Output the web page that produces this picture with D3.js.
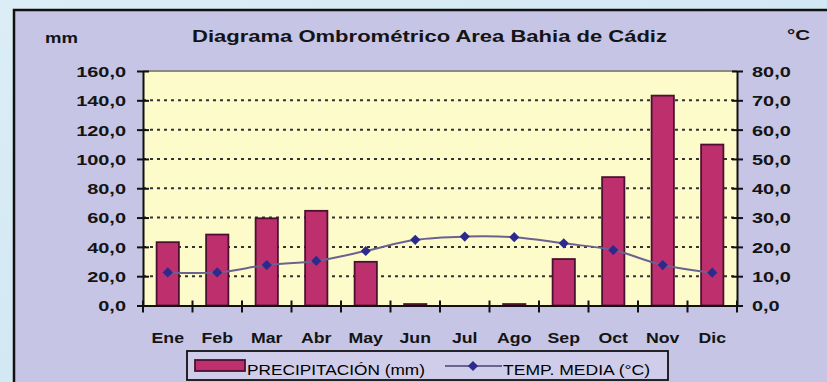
<!DOCTYPE html>
<html>
<head>
<meta charset="utf-8">
<script src="https://cdn.jsdelivr.net/npm/d3@7/dist/d3.min.js"></script>
<style>
  html, body { margin: 0; padding: 0; background: #d3e9f4; }
  svg { display: block; }
  text { font-family: "Liberation Sans", Arial, sans-serif; fill: #141414; }
</style>
</head>
<body>
<svg id="chart" width="827" height="382"></svg>
<script>
// Monthly climate data, Bahía de Cádiz
const months = ["Ene", "Feb", "Mar", "Abr", "May", "Jun", "Jul", "Ago", "Sep", "Oct", "Nov", "Dic"];
const precipitation = [43.2, 48.4, 59.5, 64.6, 29.8, 1.0, 0.0, 1.0, 31.7, 87.6, 143.2, 109.8]; // mm
const temperature = [11.3, 11.3, 13.8, 15.2, 18.6, 22.4, 23.5, 23.3, 21.2, 18.9, 13.8, 11.2];   // °C
const precipTicks = [0, 20, 40, 60, 80, 100, 120, 140, 160];
const tempTicks = [0, 10, 20, 30, 40, 50, 60, 70, 80];
const gridValues = [20, 40, 60, 80, 100, 120, 140];

const title = "Diagrama Ombrométrico Area Bahia de Cádiz";
const leftUnit = "mm";
const rightUnit = "°C";
const legendBar = "PRECIPITACIÓN (mm)";
const legendLine = "TEMP. MEDIA (°C)";

const fmt = v => d3.format(".1f")(v).replace(".", ",");

const svg = d3.select("#chart");

// page backdrop
const defs = svg.append("defs");
const bg = defs.append("linearGradient").attr("id", "bgGrad")
  .attr("x1", 0).attr("y1", 0).attr("x2", 1).attr("y2", 1);
bg.append("stop").attr("offset", "0%").attr("stop-color", "#dcedf6");
bg.append("stop").attr("offset", "100%").attr("stop-color", "#c9e3f1");
svg.append("rect").attr("width", 827).attr("height", 382).attr("fill", "url(#bgGrad)");

// chart panel
svg.append("rect")
  .attr("x", 14).attr("y", 10).attr("width", 900).attr("height", 500)
  .attr("fill", "#c6c5e5").attr("stroke", "#111").attr("stroke-width", 2.5);

const plot = { left: 143, right: 737, top: 71, bottom: 305.5 };

const x = d3.scaleBand().domain(months).range([plot.left, plot.right]).paddingInner(0).paddingOuter(0);
const yP = d3.scaleLinear().domain([0, 160]).range([plot.bottom, plot.top]);
const yT = d3.scaleLinear().domain([0, 80]).range([plot.bottom, plot.top]);

// plot background
svg.append("rect")
  .attr("x", plot.left).attr("y", plot.top)
  .attr("width", plot.right - plot.left).attr("height", plot.bottom - plot.top)
  .attr("fill", "#fdfbc9");
svg.append("line")
  .attr("x1", plot.left).attr("x2", plot.right)
  .attr("y1", plot.top).attr("y2", plot.top)
  .attr("stroke", "#8a8a8a").attr("stroke-width", 2);

// dotted gridlines
svg.append("g").selectAll("line").data(gridValues).join("line")
  .attr("x1", plot.left).attr("x2", plot.right)
  .attr("y1", d => yP(d)).attr("y2", d => yP(d))
  .attr("stroke", "#333").attr("stroke-width", 2)
  .attr("stroke-dasharray", "3,4");

// precipitation bars
const barW = x.bandwidth() * 0.45;
svg.append("g").selectAll("rect").data(precipitation).join("rect")
  .attr("x", (d, i) => x(months[i]) + (x.bandwidth() - barW) / 2)
  .attr("y", d => yP(d))
  .attr("width", barW)
  .attr("height", d => yP(0) - yP(d))
  .attr("fill", "#be2f6e")
  .attr("stroke", "#4a1230").attr("stroke-width", d => d > 0 ? 1.8 : 0);

// temperature line
const line = d3.line()
  .x((d, i) => x(months[i]) + x.bandwidth() / 2)
  .y(d => yT(d))
  .curve(d3.curveCatmullRom.alpha(0.5));
svg.append("path").datum(temperature)
  .attr("d", line).attr("fill", "none")
  .attr("stroke", "#6c6290").attr("stroke-width", 2);

const diamond = d3.symbol().type(d3.symbolDiamond2).size(66);
svg.append("g").selectAll("path").data(temperature).join("path")
  .attr("d", diamond)
  .attr("transform", (d, i) => `translate(${x(months[i]) + x.bandwidth() / 2},${yT(d)})`)
  .attr("fill", "#2c2a8c");

// left axis
const gL = svg.append("g").attr("transform", `translate(${plot.left},0)`)
  .call(d3.axisLeft(yP).tickValues(precipTicks).tickFormat(fmt).tickSizeInner(6).tickSizeOuter(0));
gL.select(".domain").attr("stroke", "#111").attr("stroke-width", 2);
gL.selectAll(".tick line").attr("x1", 6).attr("stroke", "#111").attr("stroke-width", 2);
gL.selectAll(".tick text")
  .attr("x", null).attr("dy", "0.36em")
  .attr("transform", "translate(-17,0) scale(1.33,1)")
  .attr("text-anchor", "end")
  .style("font-size", "15px").style("font-weight", "bold");

// right axis
const gR = svg.append("g").attr("transform", `translate(${plot.right},0)`)
  .call(d3.axisRight(yT).tickValues(tempTicks).tickFormat(fmt).tickSizeInner(6).tickSizeOuter(0));
gR.select(".domain").attr("stroke", "#111").attr("stroke-width", 2);
gR.selectAll(".tick line").attr("x1", -5).attr("stroke", "#111").attr("stroke-width", 2);
gR.selectAll(".tick text")
  .attr("x", null).attr("dy", "0.36em")
  .attr("transform", "translate(15,0) scale(1.33,1)")
  .attr("text-anchor", "start")
  .style("font-size", "15px").style("font-weight", "bold");

// bottom axis with ticks on category boundaries
const gB = svg.append("g").attr("transform", `translate(0,${plot.bottom})`)
  .call(d3.axisBottom(x).tickSize(0).tickPadding(0));
gB.select(".domain").attr("stroke", "#111").attr("stroke-width", 2);
gB.selectAll(".tick text")
  .attr("y", null).attr("dy", null)
  .attr("transform", "translate(0,37.5) scale(1.18,1)")
  .style("font-size", "15px").style("font-weight", "bold");
const bounds = months.map(m => x(m)).concat([plot.right]);
gB.append("g").selectAll("line").data(bounds).join("line")
  .attr("x1", d => d).attr("x2", d => d)
  .attr("y1", -5).attr("y2", 7)
  .attr("stroke", "#111").attr("stroke-width", 2);

// titles
svg.append("text").attr("x", 192).attr("y", 42)
  .attr("textLength", 475).attr("lengthAdjust", "spacingAndGlyphs")
  .style("font-size", "16px").style("font-weight", "bold").text(title);
svg.append("text").attr("x", 45).attr("y", 43)
  .attr("textLength", 33).attr("lengthAdjust", "spacingAndGlyphs")
  .style("font-size", "15px").style("font-weight", "bold").text(leftUnit);
svg.append("text").attr("x", 787).attr("y", 40)
  .attr("textLength", 23).attr("lengthAdjust", "spacingAndGlyphs")
  .style("font-size", "15px").style("font-weight", "bold").text(rightUnit);

// legend
const lg = svg.append("g");
lg.append("rect").attr("x", 187).attr("y", 351).attr("width", 481).attr("height", 29)
  .attr("fill", "#cfcde9").attr("stroke", "#111").attr("stroke-width", 1.8);
lg.append("rect").attr("x", 195).attr("y", 360).attr("width", 50).attr("height", 11)
  .attr("fill", "#be2f6e").attr("stroke", "#4a1230").attr("stroke-width", 1.8);
lg.append("text").attr("x", 247).attr("y", 375)
  .attr("textLength", 178).attr("lengthAdjust", "spacingAndGlyphs")
  .style("font-size", "14px").style("fill", "#000").text(legendBar);
lg.append("line").attr("x1", 445).attr("x2", 502).attr("y1", 366).attr("y2", 366)
  .attr("stroke", "#6c6290").attr("stroke-width", 2);
lg.append("path").attr("d", diamond).attr("transform", "translate(473,366)").attr("fill", "#2c2a8c");
lg.append("text").attr("x", 503).attr("y", 375)
  .attr("textLength", 147).attr("lengthAdjust", "spacingAndGlyphs")
  .style("font-size", "14px").style("fill", "#000").text(legendLine);
</script>
</body>
</html>
